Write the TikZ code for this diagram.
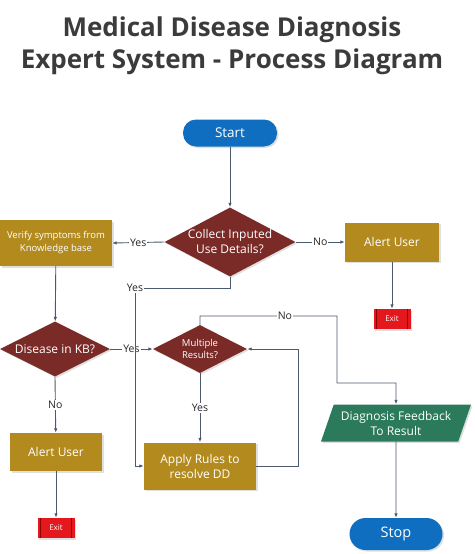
\documentclass[tikz,border=0pt]{standalone}
\usepackage{fontspec}
\setmainfont{Open Sans}
\usetikzlibrary{positioning,shapes.geometric,arrows.meta,shadows}

\definecolor{startblue}{HTML}{0F6EBF}
\definecolor{boxgold}{HTML}{B38A1E}
\definecolor{decisionred}{HTML}{7A2B27}
\definecolor{outgreen}{HTML}{2B7A5B}
\definecolor{exitred}{HTML}{E3171C}
\definecolor{linegray}{HTML}{4B5B6D}
\definecolor{titlegray}{HTML}{3B3B3B}

\begin{document}
\begin{tikzpicture}[x=1pt,y=-1pt,
  every node/.style={align=center,text=white,inner sep=0pt,
    font=\fontsize{12}{15}\selectfont},
  shade/.style={drop shadow={opacity=0.25,shadow xshift=1.5pt,shadow yshift=-1.5pt}},
  terminal/.style={shade,fill=startblue,rounded corners=13pt,minimum height=27,
    font=\fontsize{13.5}{15}\selectfont},
  process/.style={shade,fill=boxgold,minimum width=94,minimum height=39},
  decision/.style={shade,diamond,aspect=2,fill=decisionred},
  output/.style={shade,trapezium,trapezium left angle=65,trapezium right angle=115,
    trapezium stretches=true,fill=outgreen,minimum width=150,minimum height=37},
  exitbox/.style={shade,fill=exitred,minimum width=37,minimum height=20,
    font=\fontsize{8}{9}\selectfont,
    path picture={
      \draw[red!55!black,line width=0.8pt]
        ([xshift=3pt]path picture bounding box.south west) --
        ([xshift=3pt]path picture bounding box.north west);
      \draw[red!55!black,line width=0.8pt]
        ([xshift=-3pt]path picture bounding box.south east) --
        ([xshift=-3pt]path picture bounding box.north east);}},
  conn/.style={draw=linegray,line width=0.9pt,-{Latex[length=4.5pt,width=3.5pt]}},
  lbl/.style={fill=white,text=black!85,inner sep=1pt,font=\fontsize{10.5}{12}\selectfont}
  ]
\useasboundingbox (0,0) rectangle (474,554);

%% Title
\node[text=titlegray,font=\fontsize{26}{32}\selectfont\bfseries] (title) at (232,46)
  {Medical Disease Diagnosis\\Expert System - Process Diagram};

%% Nodes
\node[terminal,minimum width=94] (start) at (230,133) {Start};
\node[decision,inner sep=-4pt,minimum width=131,minimum height=69] (ask) at (230,242)
  {Collect Inputed\\Use Details?};
\node[process,minimum width=112,minimum height=46,font=\fontsize{9.5}{13}\selectfont]
  (verify) at (56,243) {Verify symptoms from\\Knowledge base};
\node[process] (alertR) at (392,242) {Alert User};
\node[exitbox] (exitR) at (392,319) {Exit};
\node[decision,minimum width=110,minimum height=55] (disease) at (55,349) {Disease in KB?};
\node[decision,minimum width=94,minimum height=48,font=\fontsize{9.5}{12}\selectfont]
  (multi) at (200,349) {Multiple\\Results?};
\node[process,minimum width=112,minimum height=47] (apply) at (200,466)
  {Apply Rules to\\resolve DD};
\node[process,minimum width=92,minimum height=38] (alertL) at (56,452) {Alert User};
\node[exitbox] (exitL) at (56,528) {Exit};
\node[output] (diag) at (396,423) {Diagnosis Feedback\\To Result};
\node[terminal,minimum width=93,minimum height=32,rounded corners=16pt,
  font=\fontsize{14.5}{16}\selectfont] (stop) at (396,534) {Stop};

%% Bend points
\coordinate (yesbend) at (135,288);
\coordinate (loopback) at (298,349);
\coordinate (nobend) at (337,316);
\coordinate (diagbend) at (396,383);

%% Connectors
\draw[conn] (start) -- (ask);
\draw[conn] (ask.west) -- node[lbl]{Yes} (verify.east);
\draw[conn] (ask.east) -- node[lbl]{No} (alertR.west);
\draw[conn] (alertR) -- (exitR);
\draw[conn] (verify) -- (disease);
\draw[conn] (disease.east) -- node[lbl]{Yes} (multi.west);
\draw[conn] (disease.south) -- node[lbl]{No} (alertL);
\draw[conn] (alertL) -- (exitL);
\draw[conn] (multi.south) -- node[lbl]{Yes} (apply.north);
\draw[conn] (apply.east) -| (loopback) -- (multi.east);
\draw[conn] (multi.north) |- node[lbl,pos=0.81]{No} (nobend) |- (diagbend) -- (diag.north);
\draw[conn] (diag) -- (stop);
\draw[conn] (ask.south) |- (yesbend) |- (apply.west);
\node[lbl] at (yesbend) {Yes};

\end{tikzpicture}
\end{document}
